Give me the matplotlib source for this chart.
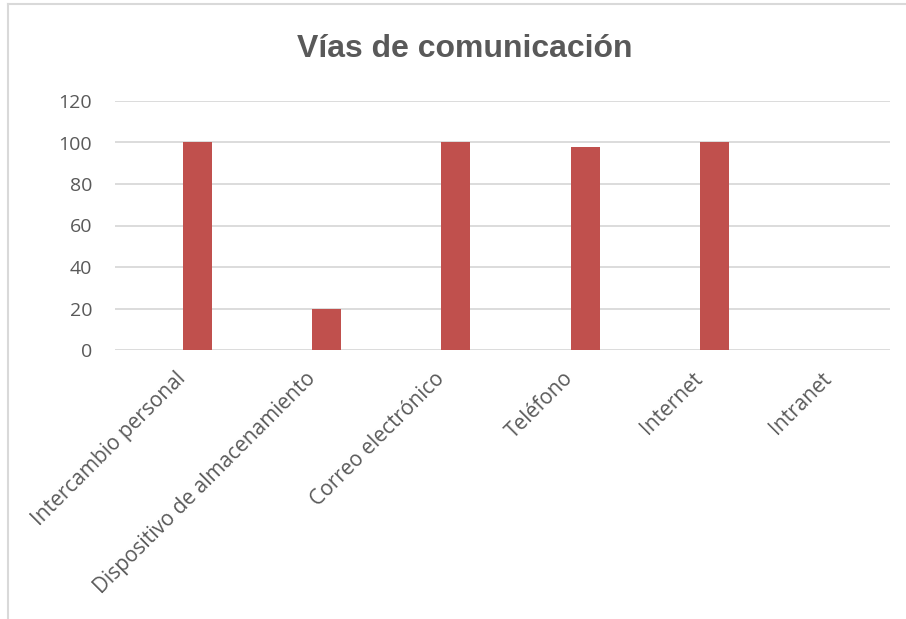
import matplotlib
matplotlib.use("Agg")
import matplotlib.pyplot as plt
import matplotlib.transforms as mtransforms
from matplotlib.lines import Line2D
from matplotlib import font_manager

# Chart data
categorias = ["Intercambio personal", "Dispositivo de almacenamiento", "Correo electrónico",
              "Teléfono", "Internet", "Intranet"]
valores = [100, 20, 100, 98, 100, 0]
y_ticks = [0, 20, 40, 60, 80, 100, 120]
titulo = "Vías de comunicación"

# Pick a narrow bold face for the title when available
installed = {f.name for f in font_manager.fontManager.ttflist}
title_font = "Liberation Sans Narrow" if "Liberation Sans Narrow" in installed else "Liberation Sans"

plt.rcParams["font.family"] = ["Open Sans", "DejaVu Sans"]

W, H = 906, 619
fig = plt.figure(figsize=(W / 100, H / 100), dpi=100)
fig.patch.set_facecolor("white")

# Outer frame (only left and top edges fall inside the image)
frame_col = "#D9D9D9"
fig.add_artist(Line2D([7.5 / W, 7.5 / W], [0, 1 - 4 / H], color=frame_col, lw=1.5, transform=fig.transFigure))
fig.add_artist(Line2D([7.5 / W, 1], [1 - 4 / H, 1 - 4 / H], color=frame_col, lw=1.5, transform=fig.transFigure))

left, right = 115 / W, 890 / W
bottom, top = 1 - 350 / H, 1 - 101 / H
ax = fig.add_axes([left, bottom, right - left, top - bottom])

x = list(range(len(categorias)))
offset = 0.139
ax.bar([i + offset for i in x], valores, width=0.224, color="#C0504D", zorder=3)

ax.set_xlim(-0.5, len(categorias) - 0.5)
ax.set_ylim(0, 120)
ax.set_yticks(y_ticks)
ax.yaxis.grid(True, color="#D9D9D9", lw=1.3, zorder=0)
ax.set_axisbelow(True)
for s in ax.spines.values():
    s.set_visible(False)

ax.tick_params(axis="y", length=0, pad=16.5, labelsize=14, labelcolor="#595959")
ax.tick_params(axis="x", length=0, pad=13, labelsize=15, labelcolor="#595959")
ax.set_xticks(x)
ax.set_xticklabels(categorias, rotation=45, ha="right", rotation_mode="anchor")

# nudge the slanted labels a little to the left
shift = mtransforms.ScaledTranslation(-4 / 100, 0, fig.dpi_scale_trans)
for lbl in ax.get_xticklabels():
    lbl.set_transform(lbl.get_transform() + shift)

fig.text(465 / W, 1 - 49 / H, titulo, ha="center", va="center", fontsize=23,
         fontweight="bold", color="#595959", family=title_font)

fig.savefig("out.png", dpi=100)
